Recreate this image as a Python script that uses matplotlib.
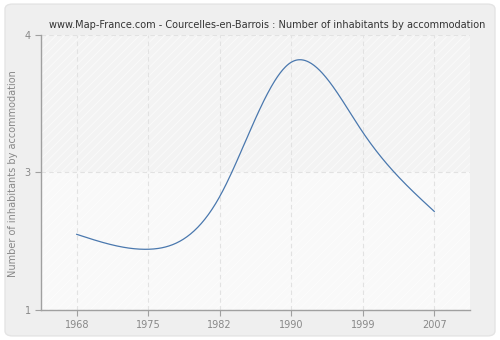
import numpy as np
import matplotlib
matplotlib.use("Agg")
import matplotlib.pyplot as plt
from matplotlib.patches import FancyBboxPatch
from matplotlib.ticker import FixedLocator, FuncFormatter

years = ["1968", "1975", "1982", "1990", "1999", "2007"]
inhabitants = [2.06, 1.93, 2.39, 3.56, 2.95, 2.26]
y_ticks = [1.4, 2.6, 3.8]

title = "www.Map-France.com - Courcelles-en-Barrois : Number of inhabitants by accommodation"
ylabel = "Number of inhabitants by accommodation"


def natural_spline(x, y, n=400):
    x = np.asarray(x, float)
    y = np.asarray(y, float)
    k = len(x)
    h = np.diff(x)
    A = np.zeros((k, k))
    r = np.zeros(k)
    A[0, 0] = A[-1, -1] = 1.0
    for i in range(1, k - 1):
        A[i, i - 1] = h[i - 1]
        A[i, i] = 2 * (h[i - 1] + h[i])
        A[i, i + 1] = h[i]
        r[i] = 6 * ((y[i + 1] - y[i]) / h[i] - (y[i] - y[i - 1]) / h[i - 1])
    m = np.linalg.solve(A, r)
    xs = np.linspace(x[0], x[-1], n)
    ys = np.empty_like(xs)
    for j, t in enumerate(xs):
        i = min(np.searchsorted(x, t, side="right") - 1, k - 2)
        a, b = x[i], x[i + 1]
        hi = b - a
        ys[j] = (m[i] * (b - t) ** 3 / (6 * hi) + m[i + 1] * (t - a) ** 3 / (6 * hi)
                 + (y[i] / hi - m[i] * hi / 6) * (b - t)
                 + (y[i + 1] / hi - m[i + 1] * hi / 6) * (t - a))
    return xs, ys


plt.rcParams["hatch.linewidth"] = 0.6

fig = plt.figure(figsize=(5, 3.4), dpi=100)
fig.patch.set_facecolor("white")

panel = FancyBboxPatch((0.01, 0.012), 0.98, 0.976,
                       boxstyle="round,pad=0,rounding_size=0.015",
                       transform=fig.transFigure, facecolor="#efefef",
                       edgecolor="#e4e4e4", linewidth=1.0, zorder=-5)
fig.patches.append(panel)

ax = fig.add_axes([0.082, 0.088, 0.858, 0.810])
ax.set_facecolor("#fafafa")

pos = np.arange(len(years))
ax.set_xlim(-0.5, len(years) - 0.5)
ax.set_ylim(y_ticks[0], y_ticks[-1])

# shaded bands
ax.axhspan(y_ticks[1], y_ticks[2], facecolor="#f3f3f3", edgecolor="#fbfbfb",
           hatch="////", linewidth=0, zorder=0)
ax.axhspan(y_ticks[0], y_ticks[1], facecolor="#f9f9f9", edgecolor="#fdfdfd",
           hatch="////", linewidth=0, zorder=0)

xs, ys = natural_spline(pos, inhabitants)
ax.plot(xs, ys, color="#4a78ae", linewidth=0.9, zorder=3)

ax.xaxis.set_major_locator(FixedLocator(pos))
ax.set_xticklabels(years)
ax.yaxis.set_major_locator(FixedLocator(y_ticks))
ax.yaxis.set_major_formatter(FuncFormatter(lambda v, p: f"{v:.0f}"))

ax.grid(True, color="#e2e2e2", linestyle=(0, (4, 3)), linewidth=0.8, zorder=1)
ax.set_axisbelow(True)

for s in ("top", "right"):
    ax.spines[s].set_visible(False)
for s in ("left", "bottom"):
    ax.spines[s].set_color("#a0a0a0")
    ax.spines[s].set_linewidth(1.0)

ax.tick_params(axis="both", colors="#a0a0a0", labelcolor="#888888",
               labelsize=7, length=4, width=0.8)

fig.text(0.026, 0.49, ylabel, rotation=90, ha="center", va="center",
         color="#888888", fontsize=7)
fig.text(0.534, 0.925, title, ha="center", va="center", fontsize=7, color="#333333")

fig.savefig("out.png", dpi=100, facecolor=fig.get_facecolor())
